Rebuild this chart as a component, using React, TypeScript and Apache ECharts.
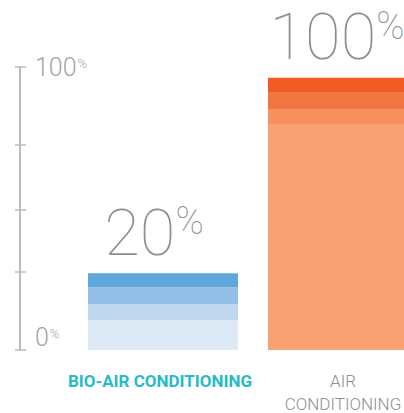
import React, { useEffect, useRef } from "react";
import * as echarts from "echarts";

const categories = ["BIO-AIR CONDITIONING", "AIR\nCONDITIONING"];
const headlines = ["20", "100"];
const baseSeg = [10.5, 79.9];
const lowSeg = [5.7, 5.3];
const midSeg = [6.0, 5.7];
const topSeg = [4.9, 5.3];
const tickValues = [0, 27.6, 49.5, 72.4, 100];
const blueShades = ["#dde9f5", "#bfd8ef", "#93bfe6", "#5fa8dc"];
const orangeShades = ["#f8a273", "#f6905e", "#f37641", "#f15a22"];

export default function App() {
  const ref = useRef<HTMLDivElement>(null);
  useEffect(() => {
    if (!ref.current) return;
    const chart = echarts.init(ref.current, null, { renderer: "svg" });
    const segs = [baseSeg, lowSeg, midSeg, topSeg];
    const series = segs.map((seg, si) => ({
      type: "bar",
      stack: "s",
      barWidth: 150,
      yAxisIndex: 0,
      data: seg.map((v, ci) => ({
        value: v,
        itemStyle: { color: (ci === 0 ? blueShades : orangeShades)[si] },
        label:
          si === 3
            ? {
                show: true,
                position: "top",
                distance: 8,
                offset: ci === 0 ? [-9, 0] : [-6, 0],
                formatter: "{n|" + headlines[ci] + "}{p|%}",
              }
            : { show: false },
      })),
      label: {
        rich: {
          n: {
            fontFamily: "Roboto",
            fontWeight: 100,
            fontSize: 65,
            lineHeight: 65,
            color: "#8e8e90",
            verticalAlign: "top",
          },
          p: {
            fontFamily: "Roboto",
            fontWeight: 100,
            fontSize: 38,
            lineHeight: 38,
            color: "#8e8e90",
            verticalAlign: "top",
            padding: [2, 0, 0, 0],
          },
        },
      },
    }));
    const axisRich = {
      n: { fontFamily: "Roboto", fontWeight: 300, fontSize: 25, color: "#a4a4a6", verticalAlign: "top", lineHeight: 25 },
      p: { fontFamily: "Roboto", fontWeight: 300, fontSize: 13, color: "#a4a4a6", verticalAlign: "top", lineHeight: 13, padding: [2, 0, 0, 1] },
    };
    chart.setOption({
      animation: false,
      grid: { left: 73, right: -29, top: 67, bottom: 63, outerBoundsMode: "none", containLabel: false },
      xAxis: {
        type: "category",
        data: categories,
        axisLine: { show: false },
        axisTick: { show: false },
        axisLabel: {
          margin: 19,
          interval: 0,
          formatter: (v: string, i: number) =>
            i === 0
              ? "{bio|" + v + "}"
              : v.split("\n").map((s) => "{air|" + s + "}").join("\n"),
          rich: {
            bio: { fontFamily: "Roboto", fontWeight: "bold", fontSize: 17, color: "#29b9c8", lineHeight: 24, padding: [0, 6, 0, 0] },
            air: { fontFamily: "Roboto", fontWeight: 300, fontSize: 17, color: "#8e8e90", lineHeight: 23 },
          },
        },
      },
      yAxis: [
        {
          type: "value",
          min: 0,
          max: 100,
          offset: 53,
          splitLine: { show: false },
          axisLine: { show: true, lineStyle: { color: "#babbbf", width: 2 } },
          axisTick: { show: true, length: 5, customValues: tickValues, lineStyle: { color: "#babbbf", width: 1.5 } },
          axisLabel: {
            inside: true,
            margin: 15,
            customValues: [100],
            verticalAlign: "middle",
            formatter: (v: number) => "{n|" + v + "}{p|%}",
            rich: axisRich,
          },
        },
        {
          type: "value",
          min: 0,
          max: 100,
          offset: 53,
          position: "left",
          splitLine: { show: false },
          axisLine: { show: false },
          axisTick: { show: true, inside: true, length: 6, customValues: tickValues, lineStyle: { color: "#babbbf", width: 1.5 } },
          axisLabel: {
            inside: true,
            margin: 15,
            customValues: [0],
            verticalAlign: "bottom",
            formatter: (v: number) => "{n|" + v + "}{p|%}",
            rich: axisRich,
          },
        },
      ],
      series,
    });
    return () => chart.dispose();
  }, []);
  return (
    <div
      ref={ref}
      style={{ position: "fixed", left: 0, top: 0, width: 404, height: 413, background: "#fff" }}
    />
  );
}
